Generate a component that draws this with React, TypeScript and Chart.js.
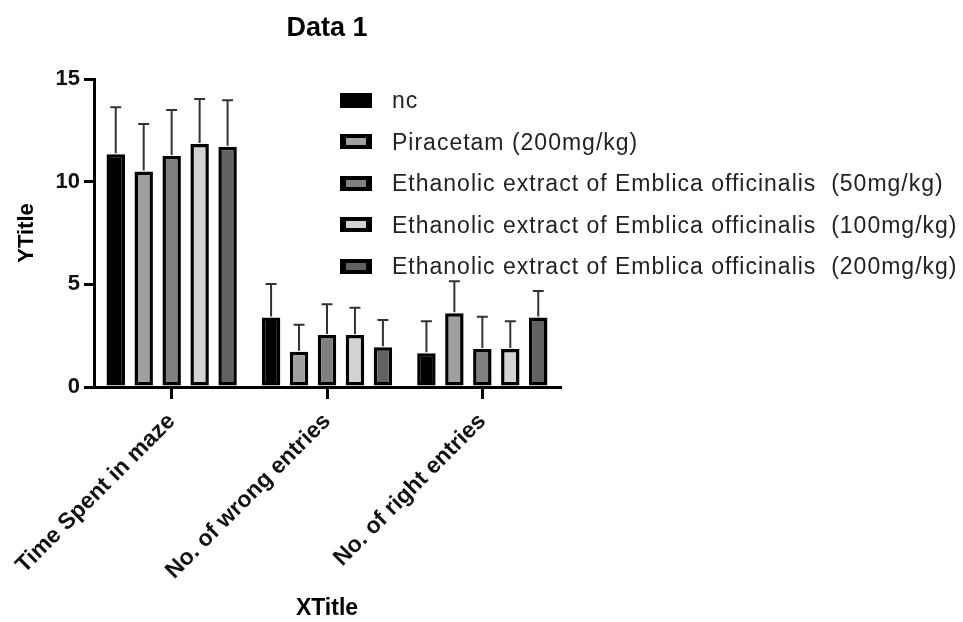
import React, { useEffect, useRef } from 'react';
import { Chart, registerables } from 'chart.js';

Chart.register(...registerables);

const categories = ['Time Spent in maze', 'No. of wrong entries', 'No. of right entries'];
const seriesNames = [
  'nc',
  'Piracetam (200mg/kg)',
  'Ethanolic extract of Emblica officinalis  (50mg/kg)',
  'Ethanolic extract of Emblica officinalis  (100mg/kg)',
  'Ethanolic extract of Emblica officinalis  (200mg/kg)',
];
const ncMean = [11.33, 3.38, 1.64];
const ncSd = [2.29, 1.64, 1.56];
const piracetamMean = [10.49, 1.72, 3.59];
const piracetamSd = [2.32, 1.31, 1.56];
const ee50Mean = [11.25, 2.53, 1.85];
const ee50Sd = [2.24, 1.5, 1.57];
const ee100Mean = [11.84, 2.53, 1.85];
const ee100Sd = [2.19, 1.33, 1.35];
const ee200Mean = [11.7, 1.93, 3.38];
const ee200Sd = [2.27, 1.33, 1.3];
const yTickValues = [0, 5, 10, 15];

const means = [ncMean, piracetamMean, ee50Mean, ee100Mean, ee200Mean];
const sds = [ncSd, piracetamSd, ee50Sd, ee100Sd, ee200Sd];
const seriesColors = ['#000000', '#a0a0a0', '#808080', '#d2d2d2', '#626262'];

const FONT = "'Liberation Sans', Arial, Helvetica, sans-serif";

const errorBarPlugin = {
  id: 'errorBars',
  afterDatasetsDraw(chart: any) {
    const ctx = chart.ctx;
    const y = chart.scales.y;
    chart.data.datasets.forEach((ds: any, i: number) => {
      const meta = chart.getDatasetMeta(i);
      meta.data.forEach((bar: any, j: number) => {
        const top = y.getPixelForValue(means[i][j] + sds[i][j]);
        ctx.save();
        ctx.strokeStyle = '#333333';
        ctx.lineWidth = 2;
        ctx.beginPath();
        ctx.moveTo(bar.x, bar.y - 1);
        ctx.lineTo(bar.x, top);
        ctx.moveTo(bar.x - 5.5, top);
        ctx.lineTo(bar.x + 5.5, top);
        ctx.stroke();
        ctx.restore();
      });
    });
  },
};

export default function App() {
  const canvasRef = useRef<HTMLCanvasElement | null>(null);

  useEffect(() => {
    if (!canvasRef.current) return;
    Chart.defaults.font.family = FONT;
    const chart = new Chart(canvasRef.current, {
      type: 'bar',
      data: {
        labels: categories,
        datasets: seriesNames.map((name, i) => ({
          label: name,
          data: means[i],
          backgroundColor: seriesColors[i],
          borderColor: '#000000',
          borderWidth: 3.5,
          borderSkipped: false,
          barPercentage: 0.66,
          categoryPercentage: 0.9,
        })),
      },
      options: {
        responsive: false,
        animation: false,
        devicePixelRatio: 1,
        layout: { padding: { left: 0, right: 403, top: 0, bottom: 0 } },
        plugins: {
          legend: { display: false },
          tooltip: { enabled: false },
          title: {
            display: true,
            text: 'Data 1',
            fullSize: false,
            color: '#000000',
            font: { size: 27, weight: 'bold', family: FONT },
            padding: { top: 12, bottom: 34.6 },
          },
        },
        scales: {
          x: {
            offset: true,
            afterFit(scale: any) {
              scale.height = 235;
              scale.paddingLeft = 0;
              scale.paddingRight = 0;
            },
            grid: {
              display: true,
              drawOnChartArea: false,
              drawTicks: true,
              offset: false,
              tickLength: 12,
              lineWidth: 3,
              color: '#000000',
            },
            border: { display: true, width: 3, color: '#000000' },
            ticks: {
              minRotation: 45,
              maxRotation: 45,
              autoSkip: false,
              padding: 9,
              color: '#111111',
              font: { size: 23, weight: 'bold', family: FONT },
            },
            title: {
              display: true,
              text: 'XTitle',
              color: '#000000',
              font: { size: 23, weight: 'bold', family: FONT },
              padding: { top: 0, bottom: 0 },
            },
          },
          y: {
            min: 0,
            max: 15,
            afterFit(scale: any) {
              scale.width = 94;
              scale.paddingTop = 0;
              scale.paddingBottom = 0;
            },
            afterBuildTicks(scale: any) {
              scale.ticks = yTickValues.map((v) => ({ value: v }));
            },
            grid: {
              display: true,
              drawOnChartArea: false,
              drawTicks: true,
              tickLength: 10,
              lineWidth: 3,
              color: '#000000',
            },
            border: { display: true, width: 3, color: '#000000' },
            ticks: {
              padding: 4,
              color: '#111111',
              font: { size: 22, weight: 'bold', family: FONT },
            },
            title: {
              display: true,
              text: 'YTitle',
              color: '#000000',
              font: { size: 22, weight: 'bold', family: FONT },
              padding: { top: 14, bottom: 0 },
            },
          },
        },
      },
      plugins: [errorBarPlugin],
    } as any);
    return () => chart.destroy();
  }, []);

  const rowCenters = [0, 1, 2, 3, 4].map((i) => 100 + i * 41.6);

  return (
    <div style={{ position: 'absolute', left: 0, top: 0, width: 963, height: 622, background: '#ffffff' }}>
      <canvas ref={canvasRef} width={963} height={622} style={{ display: 'block', width: 963, height: 622 }} />
      {seriesNames.map((name, i) => (
        <React.Fragment key={name}>
          <div
            style={{
              position: 'absolute',
              left: 340,
              top: rowCenters[i] - 7.5,
              width: 32,
              height: 15,
              boxSizing: 'border-box',
              borderStyle: 'solid',
              borderColor: '#000000',
              borderWidth: '4px 6px',
              background: seriesColors[i],
            }}
          />
          <div
            style={{
              position: 'absolute',
              left: 392,
              top: rowCenters[i] - 13,
              height: 26,
              lineHeight: '26px',
              fontFamily: FONT,
              fontSize: 23,
              letterSpacing: '1px',
              color: '#222222',
              whiteSpace: 'pre',
            }}
          >
            {name}
          </div>
        </React.Fragment>
      ))}
    </div>
  );
}
